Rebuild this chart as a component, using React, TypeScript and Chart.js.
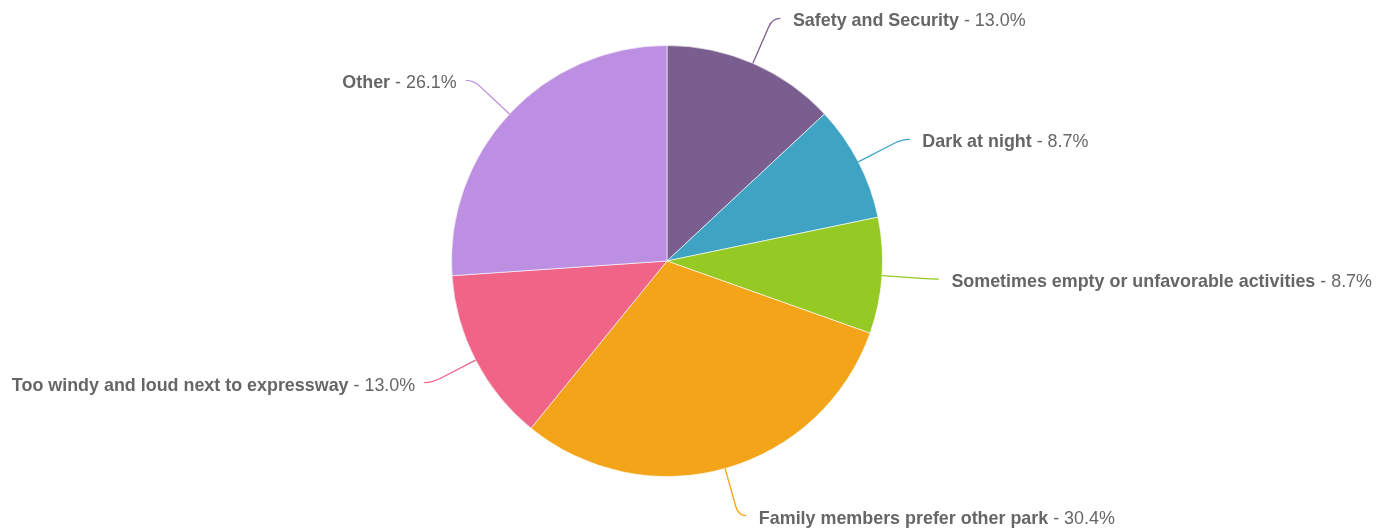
import React, { useEffect, useRef } from "react";
import { Chart, registerables } from "chart.js";

Chart.register(...registerables);

const categories = [
  "Safety and Security",
  "Dark at night",
  "Sometimes empty or unfavorable activities",
  "Family members prefer other park",
  "Too windy and loud next to expressway",
  "Other",
];
const counts = [3, 2, 2, 7, 3, 6];
const percentLabels = ["13.0%", "8.7%", "8.7%", "30.4%", "13.0%", "26.1%"];
const colors = ["#7b5e90", "#3fa3c4", "#95c923", "#f4a419", "#ef6487", "#bc8fe2"];

const FONT = '"Liberation Sans", Arial, Helvetica, sans-serif';

const labelPlugin = {
  id: "pieLabels",
  afterDatasetsDraw(chart: any) {
    const ctx = chart.ctx as CanvasRenderingContext2D;
    const meta = chart.getDatasetMeta(0);
    ctx.save();
    meta.data.forEach((arc: any, i: number) => {
      const { x: cx, y: cy, startAngle, endAngle, outerRadius } = arc.getProps(
        ["x", "y", "startAngle", "endAngle", "outerRadius"],
        true
      );
      const mid = (startAngle + endAngle) / 2;
      const cos = Math.cos(mid);
      const sin = Math.sin(mid);
      const R = outerRadius + 49;
      const touch = { x: cx + cos * outerRadius, y: cy + sin * outerRadius };
      const brk = { x: cx + cos * (R - 9), y: cy + sin * (R - 9) };
      const ctrl = { x: cx + cos * R, y: cy + sin * R };
      const right = cos >= 0;
      const side = right ? 1 : -1;
      const end = { x: ctrl.x + side * 8, y: ctrl.y };

      ctx.beginPath();
      ctx.strokeStyle = colors[i];
      ctx.lineWidth = 1.3;
      ctx.moveTo(touch.x, touch.y);
      ctx.lineTo(brk.x, brk.y);
      ctx.quadraticCurveTo(ctrl.x, ctrl.y, end.x, end.y);
      ctx.stroke();

      const boldText = categories[i];
      const normText = " - " + percentLabels[i];
      const boldFont = `bold 17.9px ${FONT}`;
      const normFont = `17.9px ${FONT}`;
      ctx.font = boldFont;
      const wb = ctx.measureText(boldText).width;
      ctx.font = normFont;
      const wn = ctx.measureText(normText).width;
      const ty = ctrl.y + 3;
      const tx = right ? ctrl.x + 20.5 : ctrl.x - 17 - wb - wn;
      ctx.textBaseline = "middle";
      ctx.textAlign = "left";
      ctx.fillStyle = "#666666";
      ctx.font = boldFont;
      ctx.fillText(boldText, tx, ty);
      ctx.font = normFont;
      ctx.fillText(normText, tx + wb, ty);
    });
    ctx.restore();
  },
};

export default function App() {
  const ref = useRef<HTMLCanvasElement | null>(null);
  useEffect(() => {
    if (!ref.current) return;
    const chart = new Chart(ref.current, {
      type: "pie",
      data: {
        labels: categories,
        datasets: [
          {
            data: counts,
            backgroundColor: colors,
            borderColor: "rgba(255,255,255,0.6)",
            borderWidth: 1,
            hoverOffset: 0,
          },
        ],
      },
      options: {
        animation: false,
        responsive: true,
        maintainAspectRatio: false,
        layout: { padding: { top: 37, bottom: 52, left: 0, right: 54 } },
        plugins: {
          legend: { display: false },
          tooltip: { enabled: false },
        },
      },
      plugins: [labelPlugin],
    });
    return () => chart.destroy();
  }, []);
  return (
    <div style={{ width: 1372, height: 521, position: "relative" }}>
      <canvas ref={ref} />
    </div>
  );
}
